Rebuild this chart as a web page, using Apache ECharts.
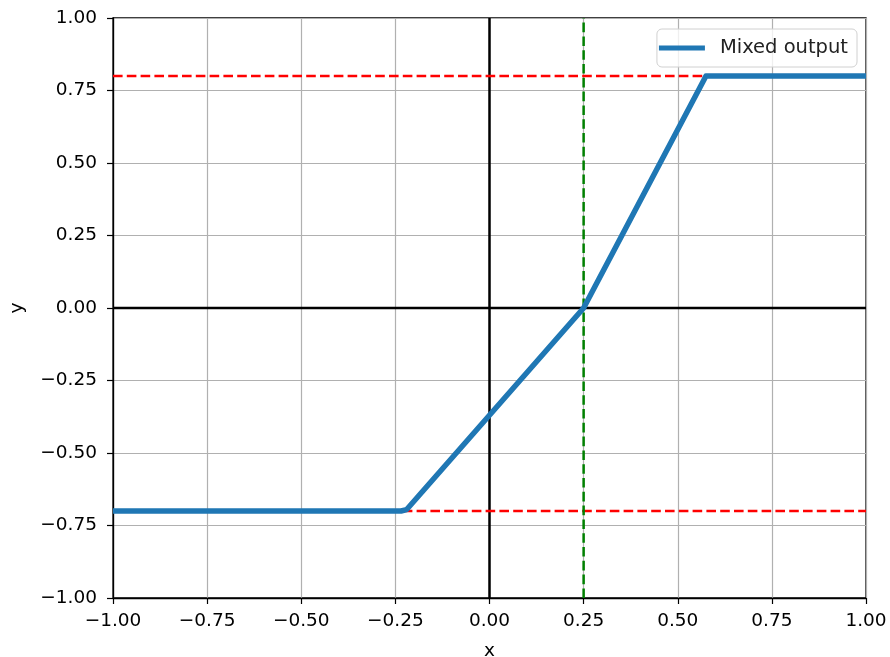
<!DOCTYPE html>
<html><head><meta charset="utf-8">
<script src="https://cdn.jsdelivr.net/npm/echarts@6/dist/echarts.min.js"></script>
<style>html,body{margin:0;padding:0;background:#fff}#c{width:890px;height:657px}</style>
</head><body><div id="c"></div>
<script>
var mixedX = [-1.0, -0.235, -0.22, 0.25, 0.575, 1.0];
var mixedY = [-0.7, -0.7, -0.695, 0.0, 0.8, 0.8];
var upperLevel = 0.8;
var lowerLevel = -0.7;
var crossX = 0.25;
var tickVals = [-1.0, -0.75, -0.5, -0.25, 0.0, 0.25, 0.5, 0.75, 1.0];

var chart = echarts.init(document.getElementById('c'), null, {renderer:'canvas'});
var font = 'DejaVu Sans';
function pairs(xs, ys){ return xs.map(function(x,i){return [x, ys[i]];}); }
var dashStyle = [9.6, 4.2];
var axisCommon = {
  type:'value', min:-1, max:1, interval:0.25,
  axisLine:{show:true, onZero:false, lineStyle:{color:'#000', width:1.3}},
  axisTick:{show:true, inside:false, length:6, lineStyle:{color:'#000', width:1.2}},
  axisLabel:{color:'#000', fontFamily:font, fontSize:18.5, formatter:function(v){ return v.toFixed(2).replace('-', '\u2212'); }},
  splitLine:{show:true, lineStyle:{color:'#b0b0b0', width:1.2}},
  nameTextStyle:{color:'#000', fontFamily:font, fontSize:18.5}
};
var opt = {
  animation:false,
  grid:{left:113, right:24, top:18, bottom:59, show:true, borderColor:'#000', borderWidth:1.3,
    containLabel:false, outerBoundsMode:'none'},
  xAxis: Object.assign({}, axisCommon, {name:'x', nameLocation:'middle', nameGap:44,
    axisLabel:Object.assign({}, axisCommon.axisLabel, {margin:14})}),
  yAxis: Object.assign({}, axisCommon, {name:'y', nameLocation:'middle', nameGap:86, nameRotate:90,
    axisLabel:Object.assign({}, axisCommon.axisLabel, {margin:16})}),
  legend:{
    data:['Mixed output'], right:33, top:29, orient:'vertical',
    backgroundColor:'rgba(255,255,255,0.8)', borderColor:'#d0d0d0', borderWidth:1, borderRadius:5,
    padding:[9,9,9,2], icon:'rect', itemWidth:46, itemHeight:5, itemGap:5,
    textStyle:{color:'#222', fontFamily:font, fontSize:19.5, padding:[0,0,0,10]}
  },
  series:[
    {type:'line', name:'hline0', data:[[-1,0],[1,0]], symbol:'none', silent:true, z:2,
      lineStyle:{color:'#000', width:2.5}},
    {type:'line', name:'vline0', data:[[0,-1],[0,1]], symbol:'none', silent:true, z:2,
      lineStyle:{color:'#000', width:2.5}},
    {type:'line', name:'upper', data:[[-1,upperLevel],[1,upperLevel]], symbol:'none', silent:true, z:3,
      lineStyle:{color:'#ff0000', width:2.5, type:dashStyle}},
    {type:'line', name:'lower', data:[[-1,lowerLevel],[1,lowerLevel]], symbol:'none', silent:true, z:3,
      lineStyle:{color:'#ff0000', width:2.5, type:dashStyle}},
    {type:'line', name:'cross', data:[[crossX,-1],[crossX,1]], symbol:'none', silent:true, z:3,
      lineStyle:{color:'#008000', width:2.5, type:dashStyle}},
    {type:'line', name:'Mixed output', data:pairs(mixedX, mixedY), symbol:'none', z:5,
      color:'#1f77b4', lineStyle:{color:'#1f77b4', width:5.5, cap:'butt', join:'round'}}
  ]
};
chart.setOption(opt);
</script></body></html>
